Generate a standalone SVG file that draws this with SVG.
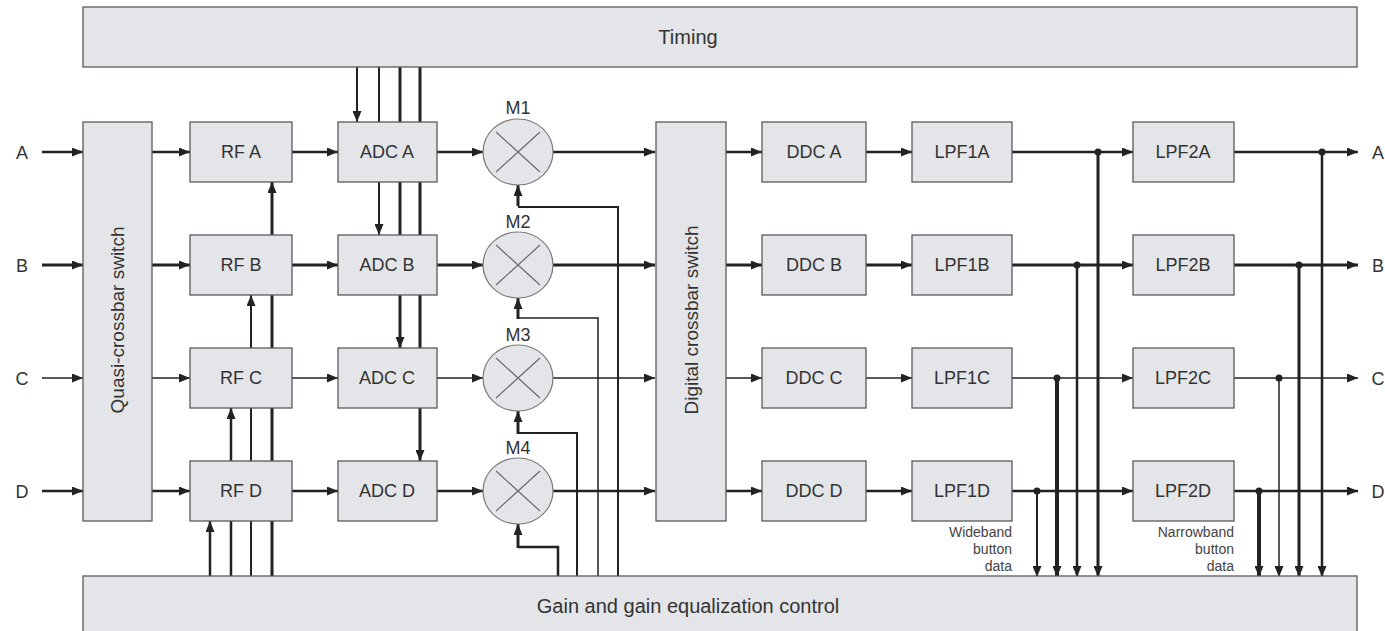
<svg xmlns="http://www.w3.org/2000/svg" width="1385" height="631" viewBox="0 0 1385 631">
<style>
.box{fill:#e3e5e8;stroke:#5a5a5a;stroke-width:1.3}
.mix{fill:#e3e5e8;stroke:#7a7a7a;stroke-width:1.2}
.x{stroke:#6a6a6a;stroke-width:1.2}
.t{font-family:"Liberation Sans",Arial,sans-serif;font-size:18px;fill:#333;text-anchor:middle}
.big{font-size:20px}
.vt{font-size:19px}
.sm{font-family:"Liberation Sans",Arial,sans-serif;font-size:14px;fill:#444;text-anchor:end}
.c{fill:none;stroke:#222;stroke-linejoin:miter}
.w1{stroke-width:1.5}
.w2{stroke-width:2}
.w25{stroke-width:2.5}
.w3{stroke-width:3}
.w4{stroke-width:4}
.a{marker-end:url(#ah)}
.dot{fill:#222}
</style>
<defs>
<marker id="ah" markerUnits="userSpaceOnUse" markerWidth="11" markerHeight="9" refX="11" refY="4.5" orient="auto">
<path d="M0,0 L11,4.5 L0,9 z" fill="#222"/>
</marker>
</defs>
<rect width="1385" height="631" fill="#fff"/>
<g id="connectors">
<!-- inputs -->
<line class="c w25 a" x1="42" y1="152" x2="83" y2="152"/>
<line class="c w3 a" x1="42" y1="265" x2="83" y2="265"/>
<line class="c w1 a" x1="42" y1="378" x2="83" y2="378"/>
<line class="c w25 a" x1="42" y1="491" x2="83" y2="491"/>
<!-- quasi to RF -->
<line class="c w25 a" x1="152" y1="152" x2="190" y2="152"/>
<line class="c w3 a" x1="152" y1="265" x2="190" y2="265"/>
<line class="c w1 a" x1="152" y1="378" x2="190" y2="378"/>
<line class="c w25 a" x1="152" y1="491" x2="190" y2="491"/>
<!-- RF to ADC -->
<line class="c w25 a" x1="292" y1="152" x2="338" y2="152"/>
<line class="c w3 a" x1="292" y1="265" x2="338" y2="265"/>
<line class="c w1 a" x1="292" y1="378" x2="338" y2="378"/>
<line class="c w25 a" x1="292" y1="491" x2="338" y2="491"/>
<!-- ADC to mixer -->
<line class="c w25 a" x1="437" y1="152" x2="483" y2="152"/>
<line class="c w3 a" x1="437" y1="265" x2="483" y2="265"/>
<line class="c w1 a" x1="437" y1="378" x2="483" y2="378"/>
<line class="c w25 a" x1="437" y1="491" x2="483" y2="491"/>
<!-- timing lines -->
<line class="c w2 a" x1="357" y1="67" x2="357" y2="122"/>
<line class="c w2 a" x1="379" y1="67" x2="379" y2="235"/>
<line class="c w3 a" x1="400" y1="67" x2="400" y2="348"/>
<line class="c w3 a" x1="420" y1="67" x2="420" y2="461"/>
<!-- gain to RF -->
<line class="c w25 a" x1="210" y1="576" x2="210" y2="521"/>
<line class="c w25 a" x1="231" y1="576" x2="231" y2="408"/>
<line class="c w2 a" x1="251" y1="576" x2="251" y2="295"/>
<line class="c w3 a" x1="272" y1="576" x2="272" y2="182"/>
<!-- mixer LO -->
<path class="c w2" d="M618,576 V207 H518"/>
<line class="c w3 a" x1="518" y1="206" x2="518" y2="185"/>
<path class="c w1" d="M598,576 V318 H518"/>
<line class="c w3 a" x1="518" y1="319" x2="518" y2="298"/>
<path class="c w2" d="M577,576 V433 H518"/>
<line class="c w3 a" x1="518" y1="434" x2="518" y2="411"/>
<path class="c w25" d="M558,576 V547 H518"/>
<line class="c w3 a" x1="518" y1="548" x2="518" y2="524"/>
<!-- mixer to digital -->
<line class="c w25 a" x1="553" y1="152" x2="655" y2="152"/>
<line class="c w3 a" x1="553" y1="265" x2="655" y2="265"/>
<line class="c w1 a" x1="553" y1="378" x2="655" y2="378"/>
<line class="c w25 a" x1="553" y1="491" x2="655" y2="491"/>
<!-- digital to DDC -->
<line class="c w25 a" x1="726" y1="152" x2="762" y2="152"/>
<line class="c w3 a" x1="726" y1="265" x2="762" y2="265"/>
<line class="c w1 a" x1="726" y1="378" x2="762" y2="378"/>
<line class="c w25 a" x1="726" y1="491" x2="762" y2="491"/>
<!-- DDC to LPF1 -->
<line class="c w25 a" x1="866" y1="152" x2="912" y2="152"/>
<line class="c w3 a" x1="866" y1="265" x2="912" y2="265"/>
<line class="c w1 a" x1="866" y1="378" x2="912" y2="378"/>
<line class="c w25 a" x1="866" y1="491" x2="912" y2="491"/>
<!-- LPF1 to LPF2 -->
<line class="c w25 a" x1="1012" y1="152" x2="1133" y2="152"/>
<line class="c w3 a" x1="1012" y1="265" x2="1133" y2="265"/>
<line class="c w1 a" x1="1012" y1="378" x2="1133" y2="378"/>
<line class="c w25 a" x1="1012" y1="491" x2="1133" y2="491"/>
<!-- LPF2 to outputs -->
<line class="c w25 a" x1="1234" y1="152" x2="1358" y2="152"/>
<line class="c w3 a" x1="1234" y1="265" x2="1358" y2="265"/>
<line class="c w1 a" x1="1234" y1="378" x2="1358" y2="378"/>
<line class="c w25 a" x1="1234" y1="491" x2="1358" y2="491"/>
<!-- wideband taps -->
<line class="c w3 a" x1="1098" y1="152" x2="1098" y2="577"/>
<line class="c w25 a" x1="1077" y1="265" x2="1077" y2="577"/>
<line class="c w4 a" x1="1057" y1="378" x2="1057" y2="577"/>
<line class="c w2 a" x1="1037" y1="491" x2="1037" y2="577"/>
<circle class="dot" cx="1098" cy="152" r="3.5"/>
<circle class="dot" cx="1077" cy="265" r="3.5"/>
<circle class="dot" cx="1057" cy="378" r="3.5"/>
<circle class="dot" cx="1037" cy="491" r="3.5"/>
<!-- narrowband taps -->
<line class="c w25 a" x1="1322" y1="152" x2="1322" y2="577"/>
<line class="c w3 a" x1="1299" y1="265" x2="1299" y2="577"/>
<line class="c w1 a" x1="1279" y1="378" x2="1279" y2="577"/>
<line class="c w4 a" x1="1259" y1="491" x2="1259" y2="577"/>
<circle class="dot" cx="1322" cy="152" r="3.5"/>
<circle class="dot" cx="1299" cy="265" r="3.5"/>
<circle class="dot" cx="1279" cy="378" r="3.5"/>
<circle class="dot" cx="1259" cy="491" r="3.5"/>
</g>
<g id="timing"><rect class="box" x="83" y="7" width="1274" height="60"/><text class="t big" x="688" y="44">Timing</text></g>
<g id="gain"><rect class="box" x="83" y="576" width="1274" height="60"/><text class="t big" x="688" y="613">Gain and gain equalization control</text></g>
<g id="quasi"><rect class="box" x="83" y="122" width="69" height="399"/><text class="t vt" transform="translate(124,320) rotate(-90)">Quasi-crossbar switch</text></g>
<g id="digital"><rect class="box" x="656" y="122" width="70" height="399"/><text class="t vt" transform="translate(698,320) rotate(-90)">Digital crossbar switch</text></g>
<g id="in-labels">
<text class="t" x="22" y="159">A</text><text class="t" x="22" y="272">B</text><text class="t" x="22" y="385">C</text><text class="t" x="22" y="498">D</text>
</g>
<g id="out-labels">
<text class="t" x="1378" y="159">A</text><text class="t" x="1378" y="272">B</text><text class="t" x="1378" y="385">C</text><text class="t" x="1378" y="498">D</text>
</g>
<g id="rfA"><rect class="box" x="190" y="122" width="102" height="60"/><text class="t" x="241" y="158">RF A</text></g>
<g id="rfB"><rect class="box" x="190" y="235" width="102" height="60"/><text class="t" x="241" y="271">RF B</text></g>
<g id="rfC"><rect class="box" x="190" y="348" width="102" height="60"/><text class="t" x="241" y="384">RF C</text></g>
<g id="rfD"><rect class="box" x="190" y="461" width="102" height="60"/><text class="t" x="241" y="497">RF D</text></g>
<g id="adcA"><rect class="box" x="338" y="122" width="99" height="60"/><text class="t" x="387" y="158">ADC A</text></g>
<g id="adcB"><rect class="box" x="338" y="235" width="99" height="60"/><text class="t" x="387" y="271">ADC B</text></g>
<g id="adcC"><rect class="box" x="338" y="348" width="99" height="60"/><text class="t" x="387" y="384">ADC C</text></g>
<g id="adcD"><rect class="box" x="338" y="461" width="99" height="60"/><text class="t" x="387" y="497">ADC D</text></g>
<g id="m1"><ellipse class="mix" cx="518" cy="152" rx="35" ry="33"/><path class="x" d="M496,132 L540,172 M540,132 L496,172"/><text class="t" x="518" y="114">M1</text></g>
<g id="m2"><ellipse class="mix" cx="518" cy="265" rx="35" ry="33"/><path class="x" d="M496,245 L540,285 M540,245 L496,285"/><text class="t" x="518" y="228">M2</text></g>
<g id="m3"><ellipse class="mix" cx="518" cy="378" rx="35" ry="33"/><path class="x" d="M496,358 L540,398 M540,358 L496,398"/><text class="t" x="518" y="341">M3</text></g>
<g id="m4"><ellipse class="mix" cx="518" cy="491" rx="35" ry="33"/><path class="x" d="M496,471 L540,511 M540,471 L496,511"/><text class="t" x="518" y="454">M4</text></g>
<g id="ddcA"><rect class="box" x="762" y="122" width="104" height="60"/><text class="t" x="814" y="158">DDC A</text></g>
<g id="ddcB"><rect class="box" x="762" y="235" width="104" height="60"/><text class="t" x="814" y="271">DDC B</text></g>
<g id="ddcC"><rect class="box" x="762" y="348" width="104" height="60"/><text class="t" x="814" y="384">DDC C</text></g>
<g id="ddcD"><rect class="box" x="762" y="461" width="104" height="60"/><text class="t" x="814" y="497">DDC D</text></g>
<g id="lpf1A"><rect class="box" x="912" y="122" width="100" height="60"/><text class="t" x="962" y="158">LPF1A</text></g>
<g id="lpf1B"><rect class="box" x="912" y="235" width="100" height="60"/><text class="t" x="962" y="271">LPF1B</text></g>
<g id="lpf1C"><rect class="box" x="912" y="348" width="100" height="60"/><text class="t" x="962" y="384">LPF1C</text></g>
<g id="lpf1D"><rect class="box" x="912" y="461" width="100" height="60"/><text class="t" x="962" y="497">LPF1D</text></g>
<g id="lpf2A"><rect class="box" x="1133" y="122" width="101" height="60"/><text class="t" x="1183" y="158">LPF2A</text></g>
<g id="lpf2B"><rect class="box" x="1133" y="235" width="101" height="60"/><text class="t" x="1183" y="271">LPF2B</text></g>
<g id="lpf2C"><rect class="box" x="1133" y="348" width="101" height="60"/><text class="t" x="1183" y="384">LPF2C</text></g>
<g id="lpf2D"><rect class="box" x="1133" y="461" width="101" height="60"/><text class="t" x="1183" y="497">LPF2D</text></g>
<g id="wideband-label"><text class="sm" x="1012" y="537">Wideband</text><text class="sm" x="1012" y="554">button</text><text class="sm" x="1012" y="571">data</text></g>
<g id="narrowband-label"><text class="sm" x="1234" y="537">Narrowband</text><text class="sm" x="1234" y="554">button</text><text class="sm" x="1234" y="571">data</text></g>
</svg>
